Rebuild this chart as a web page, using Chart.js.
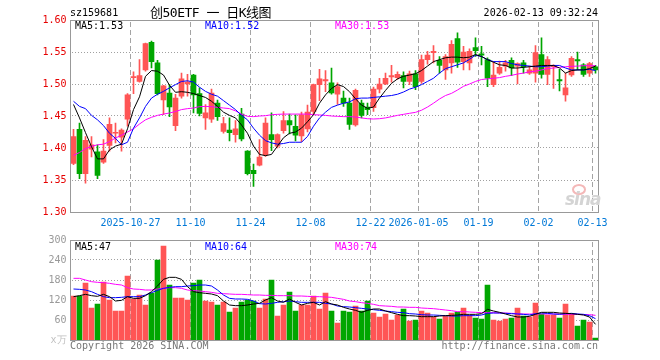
<!DOCTYPE html>
<html>
<head>
<meta charset="utf-8">
<script src="https://cdn.jsdelivr.net/npm/chart.js@4.4.1/dist/chart.umd.min.js"></script>
<style>
body { margin:0; background:#fff; }
#wrap { position:relative; width:660px; height:360px; background:#fff; font-family:"DejaVu Sans Mono", monospace; font-size:10px; overflow:hidden; }
.t { position:absolute; white-space:nowrap; line-height:12px; }
canvas { position:absolute; left:0; }
</style>
</head>
<body>
<div id="wrap">
  <canvas id="kChart" width="660" height="232" style="top:0;width:660px;height:232px"></canvas>
  <canvas id="vChart" width="660" height="130" style="top:230px;width:660px;height:130px"></canvas>

  <div class="t" style="left:70px;top:7px;color:#000">sz159681</div>
  <div class="t" style="left:150px;top:5px;line-height:16px;font-size:13px;letter-spacing:-0.5px;font-family:'DejaVu Sans Mono','Noto Sans CJK SC';color:#000">创50ETF 一 日K线图</div>
  <div class="t" style="right:62px;top:7px;color:#000">2026-02-13 09:32:24</div>

  <div class="t" id="kMa5" style="left:75px;top:20px;color:#000"></div>
  <div class="t" id="kMa10" style="left:205px;top:20px;color:#0000ff"></div>
  <div class="t" id="kMa30" style="left:335px;top:20px;color:#ff00ff"></div>

  <div class="t" id="vMa5" style="left:75px;top:241px;color:#000"></div>
  <div class="t" id="vMa10" style="left:205px;top:241px;color:#0000ff"></div>
  <div class="t" id="vMa30" style="left:335px;top:241px;color:#ff00ff"></div>

  <div style="position:absolute;left:572px;top:184px;width:10px;height:7px;border:2px solid #f4b8b8;border-radius:50%"></div>
  <div class="t" style="left:565px;top:189px;line-height:17px;font:italic bold 17px 'DejaVu Sans';color:#d4d4d4;letter-spacing:-1px">sina</div>

  <div class="t" style="left:70px;top:340px;color:#777">Copyright 2026 SINA.COM</div>
  <div class="t" style="right:62px;top:340px;color:#777">http://finance.sina.com.cn</div>
</div>

<script>
// trading days, 2025-10-13 .. 2026-02-13
var dates = [
  '2025-10-13','2025-10-14','2025-10-15','2025-10-16','2025-10-17','2025-10-20','2025-10-21','2025-10-22','2025-10-23','2025-10-24',
  '2025-10-27','2025-10-28','2025-10-29','2025-10-30','2025-10-31','2025-11-03','2025-11-04','2025-11-05','2025-11-06','2025-11-07',
  '2025-11-10','2025-11-11','2025-11-12','2025-11-13','2025-11-14','2025-11-17','2025-11-18','2025-11-19','2025-11-20','2025-11-21',
  '2025-11-24','2025-11-25','2025-11-26','2025-11-27','2025-11-28','2025-12-01','2025-12-02','2025-12-03','2025-12-04','2025-12-05',
  '2025-12-08','2025-12-09','2025-12-10','2025-12-11','2025-12-12','2025-12-15','2025-12-16','2025-12-17','2025-12-18','2025-12-19',
  '2025-12-22','2025-12-23','2025-12-24','2025-12-25','2025-12-26','2025-12-29','2025-12-30','2025-12-31','2026-01-05','2026-01-06',
  '2026-01-07','2026-01-08','2026-01-09','2026-01-12','2026-01-13','2026-01-14','2026-01-15','2026-01-16','2026-01-19','2026-01-20',
  '2026-01-21','2026-01-22','2026-01-23','2026-01-26','2026-01-27','2026-01-28','2026-01-29','2026-01-30','2026-02-02','2026-02-03',
  '2026-02-04','2026-02-05','2026-02-06','2026-02-09','2026-02-10','2026-02-11','2026-02-12','2026-02-13'
];

// axis labels shown under the price panel
var tickDates = ['2025-10-27','2025-11-10','2025-11-24','2025-12-08','2025-12-22','2026-01-05','2026-01-19','2026-02-02','2026-02-13'];
var tickTexts = ['2025-10-27','11-10','11-24','12-08','12-22','2026-01-05','01-19','02-02','02-13'];

var open = [
  1.376,1.429,1.360,1.398,1.394,1.378,1.404,1.423,1.417,1.445,
  1.510,1.504,1.522,1.565,1.533,1.475,1.486,1.435,1.481,1.500,
  1.514,1.485,1.447,1.445,1.470,1.426,1.428,1.421,1.453,1.395,
  1.365,1.373,1.389,1.421,1.403,1.427,1.443,1.434,1.419,1.430,
  1.457,1.499,1.505,1.502,1.484,1.478,1.470,1.436,1.470,1.464,
  1.463,1.492,1.500,1.511,1.510,1.513,1.504,1.516,1.504,1.538,
  1.549,1.537,1.522,1.533,1.571,1.535,1.533,1.557,1.547,1.538,
  1.499,1.517,1.528,1.537,1.528,1.533,1.517,1.517,1.546,1.515,
  1.527,1.507,1.483,1.514,1.538,1.530,1.517,1.527
];
var high = [
  1.429,1.439,1.418,1.418,1.405,1.413,1.447,1.439,1.430,1.485,
  1.519,1.538,1.564,1.567,1.537,1.498,1.499,1.484,1.517,1.515,
  1.515,1.494,1.468,1.492,1.475,1.448,1.447,1.443,1.462,1.396,
  1.375,1.413,1.447,1.455,1.422,1.457,1.453,1.452,1.456,1.467,
  1.500,1.523,1.521,1.525,1.502,1.489,1.478,1.492,1.475,1.470,
  1.495,1.509,1.517,1.529,1.519,1.519,1.520,1.521,1.545,1.551,
  1.560,1.543,1.546,1.568,1.580,1.559,1.555,1.572,1.559,1.541,
  1.535,1.536,1.537,1.541,1.533,1.537,1.528,1.560,1.572,1.543,
  1.530,1.523,1.517,1.543,1.550,1.532,1.534,1.529
];
var low = [
  1.374,1.352,1.345,1.386,1.352,1.376,1.395,1.408,1.395,1.434,
  1.485,1.503,1.520,1.525,1.483,1.452,1.449,1.427,1.478,1.481,
  1.455,1.450,1.429,1.440,1.443,1.423,1.411,1.409,1.411,1.358,
  1.340,1.372,1.387,1.396,1.400,1.423,1.422,1.411,1.410,1.425,
  1.452,1.474,1.488,1.484,1.468,1.465,1.429,1.434,1.447,1.452,
  1.457,1.486,1.499,1.503,1.507,1.494,1.499,1.491,1.501,1.531,
  1.533,1.517,1.507,1.517,1.526,1.522,1.522,1.543,1.530,1.496,
  1.496,1.515,1.520,1.513,1.500,1.517,1.515,1.503,1.509,1.499,
  1.493,1.489,1.473,1.512,1.522,1.512,1.512,1.517
];
var close = [
  1.418,1.360,1.412,1.405,1.357,1.395,1.437,1.424,1.428,1.483,
  1.511,1.513,1.563,1.535,1.485,1.497,1.464,1.478,1.508,1.503,
  1.483,1.454,1.455,1.486,1.449,1.438,1.424,1.430,1.414,1.360,
  1.360,1.386,1.439,1.413,1.421,1.443,1.436,1.420,1.452,1.456,
  1.499,1.508,1.507,1.486,1.496,1.470,1.437,1.490,1.451,1.460,
  1.492,1.500,1.509,1.513,1.515,1.504,1.516,1.496,1.538,1.545,
  1.551,1.529,1.543,1.562,1.534,1.550,1.551,1.552,1.545,1.509,
  1.514,1.526,1.533,1.525,1.532,1.527,1.522,1.549,1.515,1.538,
  1.528,1.505,1.494,1.540,1.536,1.515,1.532,1.522
];

// price moving averages
var ma5 = [
  1.468,1.447,1.424,1.402,1.383,1.383,1.397,1.403,1.406,1.430,
  1.460,1.480,1.512,1.521,1.520,1.514,1.498,1.487,1.488,1.487,
  1.485,1.482,1.479,1.473,1.465,1.456,1.451,1.447,1.436,1.423,
  1.403,1.390,1.388,1.390,1.403,1.416,1.423,1.425,1.431,1.441,
  1.452,1.470,1.483,1.493,1.499,1.496,1.488,1.477,1.467,1.462,
  1.464,1.478,1.490,1.501,1.508,1.512,1.514,1.516,1.521,1.528,
  1.535,1.538,1.541,1.542,1.542,1.541,1.542,1.546,1.543,1.538,
  1.534,1.530,1.529,1.525,1.525,1.526,1.527,1.528,1.529,1.529,
  1.529,1.525,1.517,1.521,1.522,1.522,1.524,1.528
];
var ma10 = [
  1.473,1.465,1.4615,1.451,1.444,1.435,1.423,1.415,1.405,1.409,
  1.431,1.447,1.465,1.478,1.484,1.4885,1.494,1.499,1.504,1.505,
  1.503,1.495,1.4885,1.484,1.481,1.474,1.467,1.460,1.451,1.444,
  1.431,1.420,1.4115,1.408,1.406,1.407,1.409,1.409,1.409,1.418,
  1.434,1.447,1.456,1.4635,1.467,1.470,1.472,1.477,1.478,1.478,
  1.479,1.480,1.481,1.482,1.484,1.4875,1.492,1.495,1.499,1.504,
  1.509,1.517,1.524,1.527,1.530,1.533,1.5385,1.545,1.543,1.538,
  1.535,1.535,1.535,1.532,1.530,1.529,1.528,1.527,1.527,1.528,
  1.529,1.529,1.525,1.522,1.522,1.522,1.523,1.521
];
var ma30 = [
  1.3885,1.393,1.399,1.4026,1.405,1.406,1.410,1.4156,1.420,1.425,
  1.430,1.4375,1.444,1.448,1.451,1.453,1.4547,1.457,1.460,1.4615,
  1.4625,1.4646,1.465,1.4646,1.4635,1.4625,1.4615,1.458,1.453,1.4495,
  1.449,1.450,1.4505,1.452,1.4526,1.453,1.453,1.453,1.453,1.453,
  1.452,1.4516,1.451,1.450,1.4495,1.449,1.449,1.4484,1.447,1.4458,
  1.4453,1.4458,1.447,1.449,1.451,1.4526,1.4542,1.4557,1.459,1.464,
  1.470,1.4766,1.482,1.4854,1.4906,1.4964,1.500,1.504,1.507,1.508,
  1.509,1.510,1.512,1.5135,1.5156,1.517,1.519,1.520,1.522,1.524,
  1.525,1.526,1.527,1.5276,1.528,1.5286,1.5286,1.5286
];

// volume (x10k) and its moving averages
var volume = [
  132,132,171,96,108,174,120,87,87,192,
  123,135,105,141,240,282,165,126,126,120,
  171,180,117,114,105,114,84,96,114,120,
  117,96,123,180,72,105,144,87,105,105,
  132,93,141,87,51,87,84,102,87,117,
  81,69,78,60,75,93,57,60,87,81,
  69,63,72,81,84,96,75,66,63,165,
  60,57,63,66,96,72,69,111,78,75,
  75,66,108,78,42,60,54,6
];
var vma5 = [
  130,133,137,133,131,137,130,117,119,130,
  125,125,133,145,162,182,188,188,182,160,
  145,142,140,138,133,117,105,103,103,105,
  108,110,120,127,117,113,123,113,105,110,
  113,105,115,108,105,98,93,89,83,89,
  93,93,87,82,77,73,73,72,70,70,
  70,72,73,74,75,77,77,77,79,92,
  87,83,78,73,69,69,71,77,83,83,
  83,81,80,79,77,75,69,47
];
var vma10 = [
  153,152,150,145,137,130,127,127,128,130,
  130,130,135,142,149,155,158,160,160,162,
  163,165,165,162,150,135,125,123,123,122,
  117,109,108,110,113,115,117,115,113,113,
  113,113,110,108,102,100,99,97,95,93,
  91,89,87,85,83,82,79,78,76,75,
  75,74,73,72,72,73,73,73,75,80,
  81,81,80,79,78,77,75,79,81,80,
  78,77,79,80,78,77,73,64
];
var vma30 = [
  185,185,180,175,173,172,170,167,165,157,
  153,152,150,150,153,155,157,157,155,150,
  148,147,145,143,140,139,138,137,137,136,
  135,135,134,134,133,133,133,132,132,131,
  130,130,129,128,125,122,117,115,112,110,
  107,103,102,101,99,99,98,98,96,95,
  94,92,90,88,85,85,84,83,82,82,
  82,81,81,80,79,78,78,78,78,78,
  78,78,77,77,77,76,76,74
];

var RED = '#ff5555', GREEN = '#00a600';
var FONT = { family: 'DejaVu Sans Mono', size: 10 };

var colors = close.map(function(c, i) { return c >= open[i] ? RED : GREEN; });
var last = function(a) { return a[a.length - 1]; };

document.getElementById('kMa5').textContent = 'MA5:' + last(ma5).toFixed(2);
document.getElementById('kMa10').textContent = 'MA10:' + last(ma10).toFixed(2);
document.getElementById('kMa30').textContent = 'MA30:' + last(ma30).toFixed(2);
document.getElementById('vMa5').textContent = 'MA5:' + Math.round(last(vma5));
document.getElementById('vMa10').textContent = 'MA10:' + Math.round(last(vma10));
document.getElementById('vMa30').textContent = 'MA30:' + Math.round(last(vma30));

// dashed date lines and dotted value lines as whole pixels (setLineDash came out too faint),
// placed with the chart's own scales; gray box drawn last
var panel = {
  id: 'panel',
  beforeDatasetsDraw: function(chart) {
    var ctx = chart.ctx, a = chart.chartArea, x = chart.scales.x, y = chart.scales.y;
    var half = (x.getPixelForValue(1) - x.getPixelForValue(0)) / 2;
    var top = Math.floor(a.top), bottom = Math.floor(a.bottom);
    var left = Math.floor(a.left), right = Math.floor(a.right);
    ctx.save();
    ctx.fillStyle = '#a4a4a4';
    for (var i = 0; i < dates.length; i++) {
      if (tickDates.indexOf(dates[i]) < 0) continue;
      var px = Math.floor(x.getPixelForValue(i) - half);
      for (var py0 = top + 2; py0 < bottom; py0 += 8) {
        ctx.fillRect(px, py0, 1, Math.min(5, bottom - py0));
      }
    }
    ctx.fillStyle = '#a0a0a0';
    for (var k = 1; k < y.ticks.length - 1; k++) {
      var py = Math.floor(y.getPixelForValue(y.ticks[k].value));
      for (var px0 = left + 2; px0 < right; px0 += 3) {
        ctx.fillRect(px0, py, 1, 1);
      }
    }
    ctx.restore();
  },
  afterDraw: function(chart) {
    var a = chart.chartArea, ctx = chart.ctx;
    var l = Math.floor(a.left), t = Math.floor(a.top), r = Math.floor(a.right), b = Math.floor(a.bottom);
    ctx.save();
    ctx.strokeStyle = '#999999';
    ctx.lineWidth = 1;
    ctx.strokeRect(l + 0.5, t + 0.5, r - l, b - t);
    ctx.restore();
  }
};

function line(data, color) {
  return { type: 'line', data: data, borderColor: color, borderWidth: 1, pointRadius: 0, fill: false, tension: 0 };
}

function xAxis(showLabels) {
  return {
    grid: { display: false, drawTicks: false },
    border: { display: false },
    ticks: {
      display: showLabels, autoSkip: false, maxRotation: 0, minRotation: 0,
      padding: 5, labelOffset: -3, color: '#0078d7', font: FONT,
      callback: function(v, i) { var k = tickDates.indexOf(dates[i]); return k >= 0 ? tickTexts[k] : ''; }
    },
    afterFit: function(s) { s.height = 20; }
  };
}

new Chart(document.getElementById('kChart'), {
  type: 'bar',
  data: {
    labels: dates,
    datasets: [
      line(ma5, '#000000'),
      line(ma10, '#0000ff'),
      line(ma30, '#ff00ff'),
      { data: open.map(function(o, i) { return [o, close[i]]; }), backgroundColor: colors, barThickness: 5, minBarLength: 1, grouped: false },
      { data: low.map(function(l, i) { return [l, high[i]]; }), backgroundColor: colors, barThickness: 1, minBarLength: 1, grouped: false }
    ]
  },
  options: {
    responsive: false, animation: false,
    layout: { padding: { left: 0, right: 61.5, top: 20, bottom: 0 } },
    plugins: { legend: { display: false }, tooltip: { enabled: false } },
    scales: {
      x: xAxis(true),
      y: {
        min: 1.30, max: 1.60,
        ticks: { stepSize: 0.05, padding: 4, color: '#e60000', font: FONT, callback: function(v) { return v.toFixed(2); } },
        grid: { display: false, drawTicks: false },
        border: { display: false },
        afterFit: function(s) { s.width = 70.5; }
      }
    }
  },
  plugins: [panel]
});

new Chart(document.getElementById('vChart'), {
  type: 'bar',
  data: {
    labels: dates,
    datasets: [
      line(vma5, '#000000'),
      line(vma10, '#0000ff'),
      line(vma30, '#ff00ff'),
      { data: volume, backgroundColor: colors, barThickness: 5, grouped: false }
    ]
  },
  options: {
    responsive: false, animation: false,
    layout: { padding: { left: 0, right: 61.5, top: 10, bottom: 0 } },
    plugins: { legend: { display: false }, tooltip: { enabled: false } },
    scales: {
      x: xAxis(false),
      y: {
        min: 0, max: 300,
        ticks: {
          stepSize: 60, padding: 4, font: FONT,
          color: function(ctx) { return ctx.tick && ctx.tick.value === 0 ? '#c0c0c0' : '#999999'; },
          callback: function(v) { return v === 0 ? 'x万' : String(v); }
        },
        grid: { display: false, drawTicks: false },
        border: { display: false },
        afterFit: function(s) { s.width = 70.5; }
      }
    }
  },
  plugins: [panel]
});
</script>
</body>
</html>
